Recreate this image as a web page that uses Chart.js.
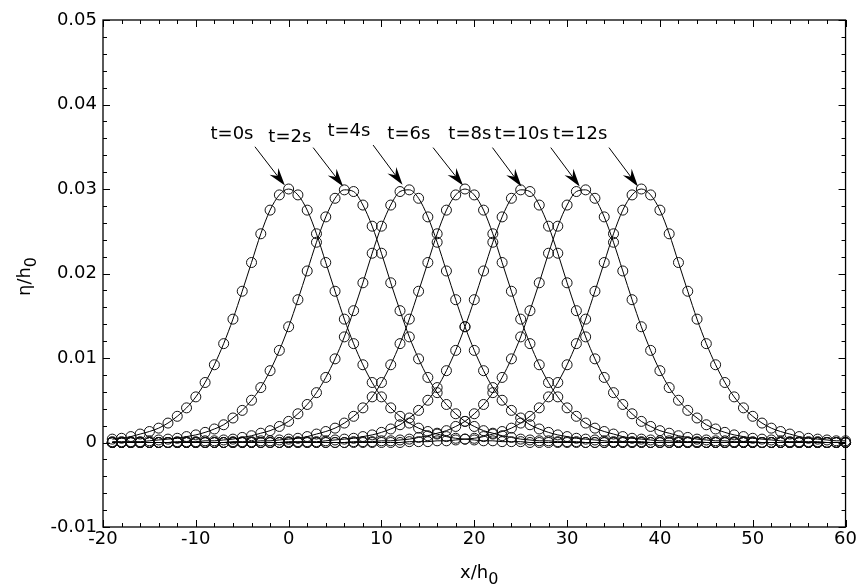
<!DOCTYPE html>
<html>
<head>
<meta charset="utf-8">
<script src="https://cdn.jsdelivr.net/npm/chart.js@4/dist/chart.umd.min.js"></script>
<style>
  html, body { margin: 0; padding: 0; background: #fff; }
  #wrap { width: 859px; height: 584px; }
</style>
</head>
<body>
<div id="wrap"><canvas id="c" width="859" height="584"></canvas></div>
<script>
// ---- data ----
const xPositions = [
  -19,-18,-17,-16,-15,-14,-13,-12,-11,-10,
  -9,-8,-7,-6,-5,-4,-3,-2,-1,0,
  1,2,3,4,5,6,7,8,9,10,
  11,12,13,14,15,16,17,18,19,20,
  21,22,23,24,25,26,27,28,29,30,
  31,32,33,34,35,36,37,38,39,40,
  41,42,43,44,45,46,47,48,49,50,
  51,52,53,54,55,56,57,58,59,60
];

const etaT0 = [
  .0004,.0005,.0007,.0010,.0013,.0017,.0023,.0031,.0041,.0054,
  .0071,.0092,.0117,.0146,.0179,.0213,.0247,.0275,.0293,.0300,
  .0293,.0275,.0247,.0213,.0179,.0146,.0117,.0092,.0071,.0054,
  .0041,.0031,.0023,.0017,.0013,.0010,.0007,.0005,.0004,.0003,
  .0002,.0002,.0001,.0001,.0001,0,0,0,0,0,
  0,0,0,0,0,0,0,0,0,0,
  0,0,0,0,0,0,0,0,0,0,
  0,0,0,0,0,0,0,0,0,0
];
const etaT2 = [
  .0001,.0001,.0001,.0001,.0002,.0003,.0004,.0005,.0007,.0009,
  .0012,.0016,.0021,.0029,.0038,.0050,.0065,.0085,.0109,.0137,
  .0169,.0203,.0237,.0267,.0289,.0299,.0297,.0281,.0256,.0224,
  .0189,.0156,.0125,.0099,.0077,.0059,.0045,.0034,.0025,.0019,
  .0014,.0011,.0008,.0006,.0004,.0003,.0002,.0002,.0001,.0001,
  .0001,0,0,0,0,0,0,0,0,0,
  0,0,0,0,0,0,0,0,0,0,
  0,0,0,0,0,0,0,0,0,0
];
const etaT4 = [
  0,0,0,0,0,0,0,.0001,.0001,.0001,
  .0002,.0002,.0003,.0004,.0006,.0008,.0011,.0014,.0019,.0025,
  .0034,.0045,.0059,.0077,.0099,.0125,.0156,.0189,.0224,.0256,
  .0281,.0297,.0299,.0289,.0267,.0237,.0203,.0169,.0137,.0109,
  .0085,.0065,.0050,.0038,.0029,.0021,.0016,.0012,.0009,.0007,
  .0005,.0004,.0003,.0002,.0001,.0001,.0001,.0001,0,0,
  0,0,0,0,0,0,0,0,0,0,
  0,0,0,0,0,0,0,0,0,0
];
const etaT6 = [
  0,0,0,0,0,0,0,0,0,0,
  0,0,0,.0001,.0001,.0001,.0002,.0002,.0003,.0004,
  .0005,.0007,.0010,.0013,.0017,.0023,.0031,.0041,.0054,.0071,
  .0092,.0117,.0146,.0179,.0213,.0247,.0275,.0293,.0300,.0293,
  .0275,.0247,.0213,.0179,.0146,.0117,.0092,.0071,.0054,.0041,
  .0031,.0023,.0017,.0013,.0010,.0007,.0005,.0004,.0003,.0002,
  .0002,.0001,.0001,.0001,0,0,0,0,0,0,
  0,0,0,0,0,0,0,0,0,0
];
const etaT8 = [
  0,0,0,0,0,0,0,0,0,0,
  0,0,0,0,0,0,0,0,0,.0001,
  .0001,.0001,.0001,.0002,.0003,.0004,.0005,.0007,.0009,.0012,
  .0016,.0021,.0029,.0038,.0050,.0065,.0085,.0109,.0137,.0169,
  .0203,.0237,.0267,.0289,.0299,.0297,.0281,.0256,.0224,.0189,
  .0156,.0125,.0099,.0077,.0059,.0045,.0034,.0025,.0019,.0014,
  .0011,.0008,.0006,.0004,.0003,.0002,.0002,.0001,.0001,.0001,
  0,0,0,0,0,0,0,0,0,0
];
const etaT10 = [
  0,0,0,0,0,0,0,0,0,0,
  0,0,0,0,0,0,0,0,0,0,
  0,0,0,0,0,0,.0001,.0001,.0001,.0002,
  .0002,.0003,.0004,.0006,.0008,.0011,.0014,.0019,.0025,.0034,
  .0045,.0059,.0077,.0099,.0125,.0156,.0189,.0224,.0256,.0281,
  .0297,.0299,.0289,.0267,.0237,.0203,.0169,.0137,.0109,.0085,
  .0065,.0050,.0038,.0029,.0021,.0016,.0012,.0009,.0007,.0005,
  .0004,.0003,.0002,.0001,.0001,.0001,.0001,0,0,0
];
const etaT12 = [
  0,0,0,0,0,0,0,0,0,0,
  0,0,0,0,0,0,0,0,0,0,
  0,0,0,0,0,0,0,0,0,0,
  0,0,.0001,.0001,.0001,.0002,.0002,.0003,.0004,.0005,
  .0007,.0010,.0013,.0017,.0023,.0031,.0041,.0054,.0071,.0092,
  .0117,.0146,.0179,.0213,.0247,.0275,.0293,.0300,.0293,.0275,
  .0247,.0213,.0179,.0146,.0117,.0092,.0071,.0054,.0041,.0031,
  .0023,.0017,.0013,.0010,.0007,.0005,.0004,.0003,.0002,.0002
];

const seriesNames = ['t=0s','t=2s','t=4s','t=6s','t=8s','t=10s','t=12s'];
const seriesValues = [etaT0, etaT2, etaT4, etaT6, etaT8, etaT10, etaT12];

// annotation texts and anchor points (data units)
const annoLabelX = [-6.1, 0.13, 6.49, 12.95, 19.52, 25.11, 31.41];
const annoLabelY = [0.0365, 0.0361, 0.0368, 0.0365, 0.0365, 0.0365, 0.0365];
const arrowTailX = [-3.63, 2.64, 9.10, 15.56, 21.96, 28.24, 34.51];
const arrowTailY = [0.0350, 0.0349, 0.0352, 0.0349, 0.0349, 0.0349, 0.0349];
const arrowTipX  = [-0.4, 5.87, 12.27, 18.79, 25.08, 31.36, 37.64];
const arrowTipY  = [0.0304, 0.0303, 0.0305, 0.0304, 0.0303, 0.0303, 0.0303];

const xTickValues = [-20,-10,0,10,20,30,40,50,60];
const yTickValues = [-0.01,0,0.01,0.02,0.03,0.04,0.05];

// ---- chart ----
const FONT = '"DejaVu Sans", "Liberation Sans", Arial, sans-serif';

const datasets = seriesValues.map((vals, k) => ({
  label: seriesNames[k],
  data: xPositions.map((x, i) => ({ x: x, y: vals[i] })),
  borderColor: '#000',
  borderWidth: 1,
  pointRadius: 5,
  pointBorderWidth: 1,
  pointBorderColor: '#111',
  pointBackgroundColor: 'rgba(0,0,0,0)',
  pointStyle: 'circle',
  fill: false,
  cubicInterpolationMode: 'monotone',
  clip: false
}));

const framePlugin = {
  id: 'frame',
  afterDatasetsDraw(chart) {
    const ctx = chart.ctx;
    const a = chart.chartArea;
    const xs = chart.scales.x, ys = chart.scales.y;
    ctx.save();
    ctx.strokeStyle = '#000';
    ctx.lineWidth = 1.3;
    ctx.strokeRect(a.left, a.top, a.right - a.left, a.bottom - a.top);
    ctx.lineWidth = 1;
    ctx.beginPath();
    for (let v = xs.min; v <= xs.max + 1e-9; v += 2) {
      const px = Math.round(xs.getPixelForValue(v)) + 0.5;
      const len = (Math.abs(v % 10) < 1e-9) ? 7 : 4;
      ctx.moveTo(px, a.bottom); ctx.lineTo(px, a.bottom - len);
      ctx.moveTo(px, a.top); ctx.lineTo(px, a.top + len);
    }
    for (let i = -5; i <= 25; i++) {
      const v = i * 0.002;
      const py = Math.round(ys.getPixelForValue(v)) + 0.5;
      const len = (i % 5 === 0) ? 7 : 4;
      ctx.moveTo(a.left, py); ctx.lineTo(a.left + len, py);
      ctx.moveTo(a.right, py); ctx.lineTo(a.right - len, py);
    }
    ctx.stroke();

    // annotations: labels + arrows
    ctx.fillStyle = '#000';
    ctx.font = '18px ' + FONT;
    ctx.textAlign = 'center';
    ctx.textBaseline = 'middle';
    for (let k = 0; k < seriesNames.length; k++) {
      ctx.fillText(seriesNames[k], xs.getPixelForValue(annoLabelX[k]), ys.getPixelForValue(annoLabelY[k]));
      const tx = xs.getPixelForValue(arrowTailX[k]), ty = ys.getPixelForValue(arrowTailY[k]);
      const hx = xs.getPixelForValue(arrowTipX[k]), hy = ys.getPixelForValue(arrowTipY[k]);
      const dx = hx - tx, dy = hy - ty, L = Math.hypot(dx, dy);
      const ux = dx / L, uy = dy / L, nx = -uy, ny = ux;
      const headLen = 18, halfW = 5.5, notch = 12;
      ctx.beginPath();
      ctx.moveTo(tx, ty);
      ctx.lineTo(hx - ux * notch, hy - uy * notch);
      ctx.stroke();
      ctx.beginPath();
      ctx.moveTo(hx, hy);
      ctx.lineTo(hx - ux * headLen + nx * halfW, hy - uy * headLen + ny * halfW);
      ctx.lineTo(hx - ux * notch, hy - uy * notch);
      ctx.lineTo(hx - ux * headLen - nx * halfW, hy - uy * headLen - ny * halfW);
      ctx.closePath();
      ctx.fill();
    }

    // axis titles with subscripts
    ctx.textAlign = 'left';
    ctx.textBaseline = 'alphabetic';
    const mainF = '18px ' + FONT, subF = '16px ' + FONT;
    // x title
    ctx.font = mainF;
    const w1 = ctx.measureText('x/h').width;
    ctx.font = subF;
    const w2 = ctx.measureText('0').width;
    let sx = (a.left + a.right) / 2 + 5 - (w1 + w2) / 2;
    const by = a.bottom + 51;
    ctx.font = mainF; ctx.fillText('x/h', sx, by);
    ctx.font = subF; ctx.fillText('0', sx + w1, by + 6);
    // y title
    ctx.font = mainF;
    const v1 = ctx.measureText('\u03b7/h').width;
    ctx.font = subF;
    const v2 = ctx.measureText('0').width;
    ctx.translate(a.left - 73, (a.top + a.bottom) / 2 + 3);
    ctx.rotate(-Math.PI / 2);
    const s0 = -(v1 + v2) / 2;
    ctx.font = mainF; ctx.fillText('\u03b7/h', s0, 0);
    ctx.font = subF; ctx.fillText('0', s0 + v1, 6);
    ctx.restore();
  }
};

new Chart(document.getElementById('c'), {
  type: 'line',
  data: { datasets: datasets },
  options: {
    responsive: false,
    animation: false,
    devicePixelRatio: 1,
    layout: { padding: { top: 20, right: 13, left: 0, bottom: 0 } },
    plugins: { legend: { display: false }, tooltip: { enabled: false } },
    elements: { line: { tension: 0.4 } },
    scales: {
      x: {
        type: 'linear',
        min: -20, max: 60,
        afterFit(s) { s.height = 57; },
        afterBuildTicks(s) { s.ticks = xTickValues.map(v => ({ value: v })); },
        grid: { display: false, drawTicks: false },
        border: { display: false },
        ticks: { color: '#000', font: { size: 18, family: FONT }, padding: 2, maxRotation: 0, autoSkip: false,
                 callback: v => String(v) }
      },
      y: {
        type: 'linear',
        min: -0.01, max: 0.05,
        afterFit(s) { s.width = 103; },
        afterBuildTicks(s) { s.ticks = yTickValues.map(v => ({ value: v })); },
        grid: { display: false, drawTicks: false },
        border: { display: false },
        ticks: { color: '#000', font: { size: 18, family: FONT }, padding: 6, autoSkip: false,
                 callback: v => { const r = Math.round(v * 100) / 100; return r === 0 ? '0' : r.toFixed(2); } }
      }
    }
  },
  plugins: [framePlugin]
});
</script>
</body>
</html>
